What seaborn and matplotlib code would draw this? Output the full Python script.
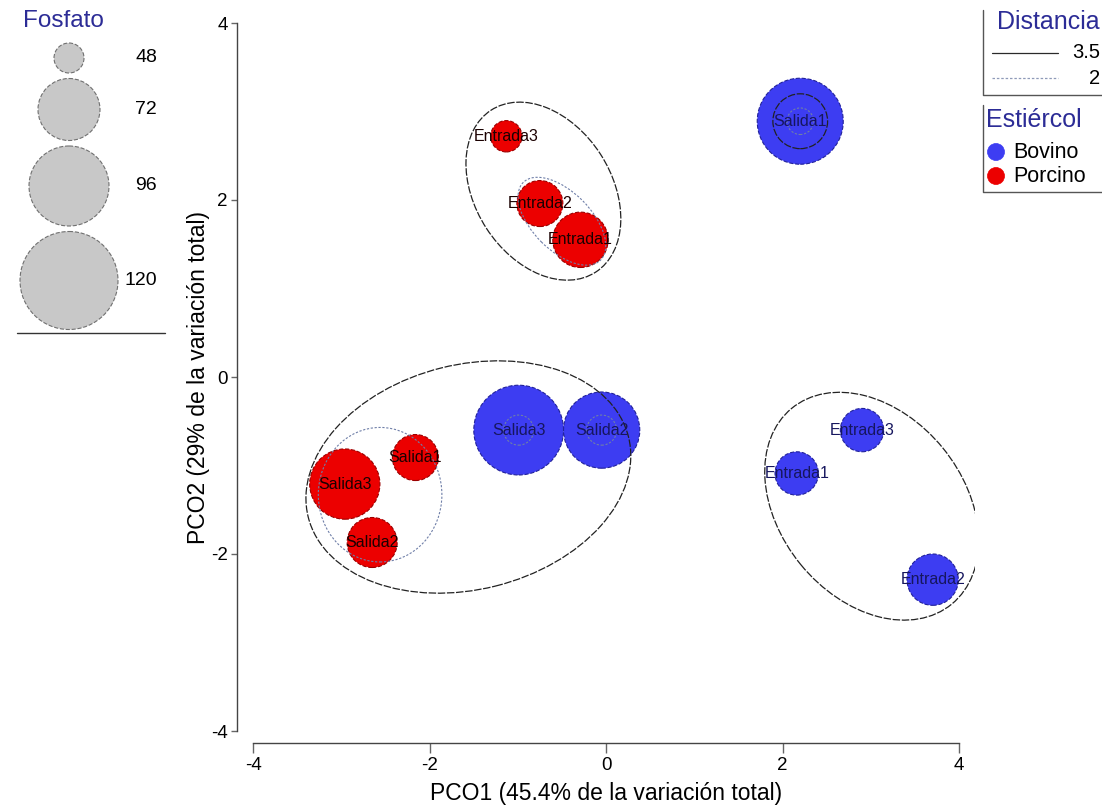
import numpy as np
import pandas as pd
import matplotlib
matplotlib.use('Agg')
import matplotlib.pyplot as plt
from matplotlib.patches import Ellipse, Circle
import seaborn as sns

# samples (PCO scores)
muestra = ['Entrada3', 'Entrada2', 'Entrada1', 'Salida1', 'Salida3', 'Salida2',
           'Salida1', 'Salida3', 'Salida2', 'Entrada3', 'Entrada1', 'Entrada2']
estiercol = ['Porcino'] * 6 + ['Bovino'] * 6
pco1 = [-1.13, -0.75, -0.29, -2.16, -2.96, -2.65, 2.20, -0.99, -0.05, 2.90, 2.16, 3.70]
pco2 = [2.72, 1.96, 1.55, -0.91, -1.21, -1.87, 2.89, -0.60, -0.60, -0.60, -1.09, -2.29]
fosfato = [49, 60, 67, 60, 83, 63, 104, 109, 91, 58, 58, 64]

fosfato_ley = [48, 72, 96, 120]

# distance contours: centre, semi-axes, angle, distance level
cont_x = [-0.71, -0.50, -1.56, -2.56, 3.01, 2.20, 2.20, -0.99, -0.05]
cont_y = [2.10, 1.76, -1.13, -1.33, -1.46, 2.89, 2.89, -0.60, -0.60]
cont_a = [1.09, 0.62, 1.87, 0.70, 1.43, 0.31, 0.15, 0.17, 0.17]
cont_b = [0.77, 0.33, 1.27, 0.76, 1.04, 0.31, 0.15, 0.17, 0.17]
cont_ang = [-57, -45, 14, 0, -50.6, 0, 0, 0, 0]
cont_dist = [3.5, 2, 3.5, 2, 3.5, 3.5, 2, 2, 2]

df = pd.DataFrame({'muestra': muestra, 'estiercol': estiercol,
                   'pco1': pco1, 'pco2': pco2, 'fosfato': fosfato})

sns.set_style('white')
plt.rcParams['font.family'] = ['Liberation Sans', 'DejaVu Sans']
plt.rcParams['axes.unicode_minus'] = False
plt.rcParams['text.color'] = 'black'

DPI = 100
colores = {'Bovino': '#3d3df2', 'Porcino': '#ec0000'}
bordes = {'Bovino': '#22229a', 'Porcino': '#9a0000'}
txt_col = {'Bovino': '#16165e', 'Porcino': '#1a0000'}
titulo_col = '#2c2c96'


def radio(v):
    # bubble radius in pixels
    return np.interp(v, [48, 72, 96, 120], [15, 31, 40, 49])


def area(v):
    d_pt = 2 * radio(v) * 72 / DPI
    return d_pt ** 2


fig = plt.figure(figsize=(11.02, 8.08), dpi=DPI)
ax = fig.add_axes([253 / 1102, 77 / 808, 722 / 1102, 708 / 808])

for grupo in ['Bovino', 'Porcino']:
    sub = df[df.estiercol == grupo]
    sns.scatterplot(data=sub, x='pco1', y='pco2', size='fosfato',
                    sizes={v: area(v) for v in sub.fosfato.unique()},
                    color=colores[grupo], edgecolor=bordes[grupo],
                    linewidth=0.8, linestyle='--', alpha=1, legend=False,
                    ax=ax, zorder=2, clip_on=False)

for x, y, a, b, ang, d in zip(cont_x, cont_y, cont_a, cont_b, cont_ang, cont_dist):
    if d == 3.5:
        e = Ellipse((x, y), 2 * a, 2 * b, angle=ang, fill=False, ec='#222222',
                    lw=0.9, ls=(0, (6, 1.3)), zorder=3)
    else:
        e = Ellipse((x, y), 2 * a, 2 * b, angle=ang, fill=False, ec='#6f7fa8',
                    lw=0.8, ls=(0, (2, 1.5)), zorder=3)
    ax.add_patch(e)

for _, r in df.iterrows():
    ax.text(r.pco1, r.pco2, r.muestra, ha='center', va='center', fontsize=11.5,
            color=txt_col[r.estiercol], zorder=4)

ax.set_xlim(-4, 4.18)
ax.set_ylim(-4, 4)
ax.set_xticks([-4, -2, 0, 2, 4])
ax.set_yticks([-4, -2, 0, 2, 4])
for s in ['top', 'right']:
    ax.spines[s].set_visible(False)
ax.spines['left'].set_position(('outward', 11.5))
ax.spines['bottom'].set_position(('outward', 8.5))
ax.spines['left'].set_bounds(-4, 4)
ax.spines['bottom'].set_bounds(-4, 4)
for s in ['left', 'bottom']:
    ax.spines[s].set_color('#444444')
    ax.spines[s].set_linewidth(1)
ax.tick_params(axis='x', bottom=True, direction='out', length=7, width=1,
               color='#666666', labelsize=13.5, labelcolor='black', pad=3)
ax.tick_params(axis='y', left=True, direction='out', length=4.5, width=1,
               color='#666666', labelsize=13.5, labelcolor='black', pad=2)
ax.set_xlabel('PCO1 (45.4% de la variación total)', fontsize=16.5, va='center',
              color='black')
ax.set_ylabel('PCO2 (29% de la variación total)', fontsize=16.5, va='center',
              color='black')
ax.xaxis.set_label_coords(0.489, -0.088)
ax.yaxis.set_label_coords(-0.075, 0.5)

# legends drawn in pixel coordinates on an overlay
lax = fig.add_axes([0, 0, 1, 1], zorder=-1)
lax.set_xlim(0, 1102)
lax.set_ylim(808, 0)
lax.axis('off')

lax.text(63, 21, 'Fosfato', ha='center', va='center', fontsize=17.5, color=titulo_col)
top = 43
for v in fosfato_ley:
    r = radio(v)
    cy = top + r
    lax.add_patch(Circle((69, cy), r, fc='#c8c8c8', ec='#707070', lw=0.8, ls='--'))
    lax.text(157, cy, str(v), ha='right', va='center', fontsize=14)
    top = cy + r + 5.5
lax.plot([17, 165], [333, 333], color='#333333', lw=1)

# Distancia
lax.plot([983, 983, 1102], [10, 95, 95], color='#555555', lw=1)
lax.text(1100, 22, 'Distancia', ha='right', va='center', fontsize=18, color=titulo_col)
lax.plot([992, 1058], [53, 53], color='#2a2a2a', lw=0.9)
lax.text(1100, 53, '3.5', ha='right', va='center', fontsize=14.5)
lax.plot([992, 1058], [78, 78], color='#8f9ab8', lw=0.9, ls=(0, (2, 1.5)))
lax.text(1100, 78, '2', ha='right', va='center', fontsize=14.5)

# Estiércol
lax.plot([983, 983, 1102], [105, 192, 192], color='#555555', lw=1)
lax.text(986, 120, 'Estiércol', ha='left', va='center', fontsize=18, color=titulo_col)
for yy, g in zip([152, 176], ['Bovino', 'Porcino']):
    lax.add_patch(Circle((996, yy), 8.5, fc=colores[g], ec=colores[g], lw=0.5))
    lax.text(1013, yy, g, ha='left', va='center', fontsize=15.5)

fig.savefig('out.png', dpi=DPI)
